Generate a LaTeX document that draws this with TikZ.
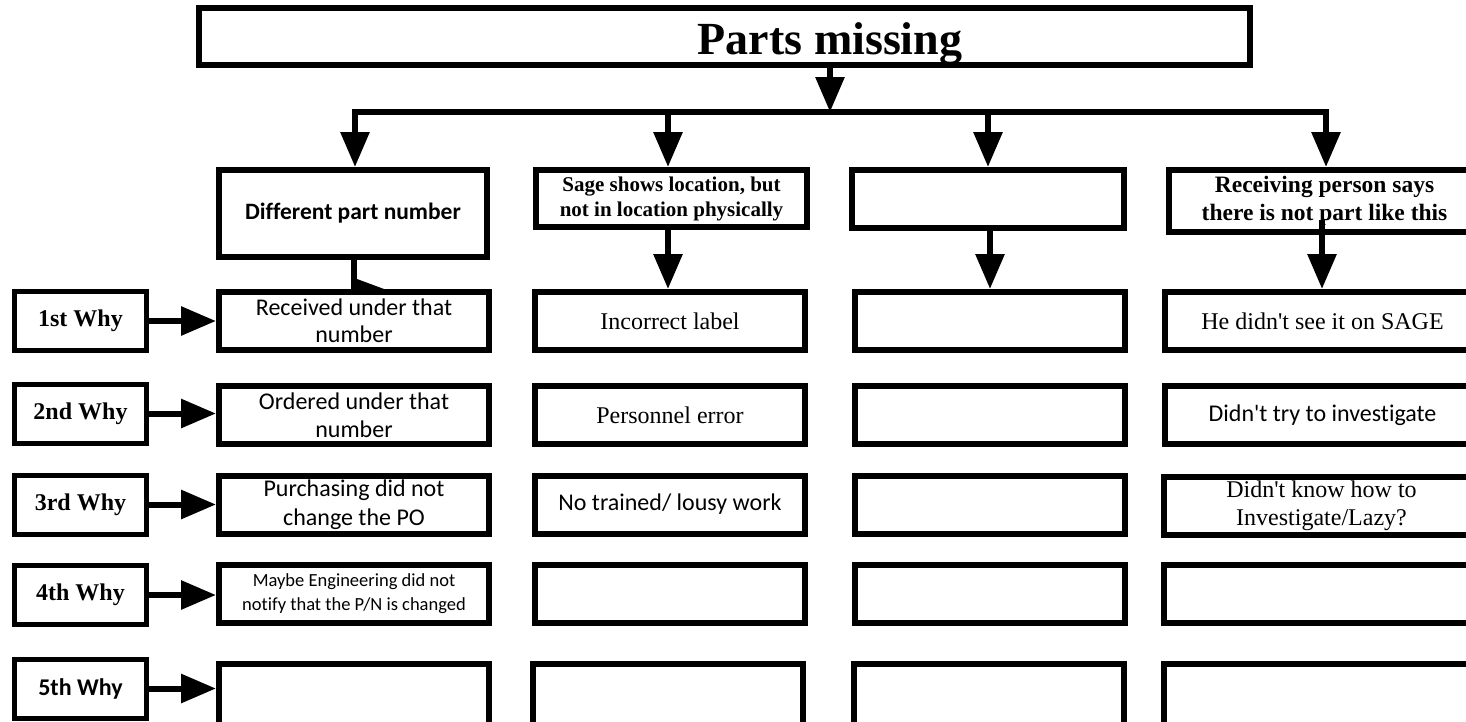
\documentclass[tikz,border=0pt]{standalone}
\usepackage{fontspec}
\setmainfont{Liberation Serif}
\newfontfamily\calibri[Ligatures=NoCommon]{Carlito}
\usetikzlibrary{arrows.meta,calc}

\tikzset{
  frame/.style={draw, rectangle, line width=6pt, inner sep=0pt, align=center},
  cell/.style={frame, minimum width=270pt, minimum height=58pt},
  lastcell/.style={frame, minimum width=270pt, minimum height=76pt},
  whybox/.style={draw, rectangle, line width=5pt, inner sep=0pt, minimum width=132pt, minimum height=59pt},
  serifreg/.style={font=\fontsize{24}{28}\selectfont},
  serifbold/.style={font=\bfseries\fontsize{24}{28}\selectfont},
  sansreg/.style={font=\calibri\fontsize{24}{27}\selectfont},
  sansbold/.style={font=\calibri\bfseries\fontsize{24}{27}\selectfont},
  arr/.style={line width=6pt, -{Triangle[width=28pt,length=35pt]}},
  bar/.style={line width=6pt}
}

\begin{document}
\begin{tikzpicture}[x=1pt, y=-1pt]
\useasboundingbox (0,0) rectangle (1466,721);
\clip (0,0) rectangle (1466,721);

% problem statement
\node[frame, minimum width=1051pt, minimum height=57pt] (title) at (724.5,36.5) {};
\node[anchor=base, inner sep=0pt, font=\bfseries\fontsize{46}{50}\selectfont] (titletext) at (830,54) {Parts missing};

% first-level causes
\node[frame, minimum width=268pt, minimum height=87pt, font=\calibri\bfseries\fontsize{23.5}{27}\selectfont] (d1) at (353,213.5) {Different part number};
\node[frame, minimum width=271pt, minimum height=57pt, font=\bfseries\fontsize{21}{25}\selectfont] (d2) at (671.5,198.5) {Sage shows location, but\\not in location physically};
\node[frame, minimum width=272pt, minimum height=58pt] (d3) at (988,199) {};
\node[frame, minimum width=311pt, minimum height=62pt, font=\bfseries\fontsize{23.5}{28}\selectfont] (d4) at (1324.5,201) {Receiving person says\\there is not part like this};

% the five whys, column 1
\node[cell, sansreg] (r11) at (354,321) {Received under that\\number};
\node[cell, font=\calibri\fontsize{24}{28}\selectfont] (r12) at (354,415) {Ordered under that\\number};
\node[cell, font=\calibri\fontsize{24}{29}\selectfont] (r13) at (354,504.5) {Purchasing did not\\change the PO};
\node[cell, font=\calibri\fontsize{18.5}{24}\selectfont] (r14) at (354,594) {Maybe Engineering did not\\notify that the P/N is changed};
\node[lastcell] (r15) at (354,702) {};

% column 2
\node[cell, serifreg] (r21) at (670,321) {Incorrect label};
\node[cell, serifreg] (r22) at (670,415) {Personnel error};
\node[cell, sansreg] (r23) at (670,504.5) {No trained/ lousy work};
\node[cell] (r24) at (670,594) {};
\node[lastcell] (r25) at (668,702) {};

% column 3
\node[cell] (r31) at (990,321) {};
\node[cell] (r32) at (990,415) {};
\node[cell] (r33) at (990,504.5) {};
\node[cell] (r34) at (990,594) {};
\node[lastcell] (r35) at (988.5,702) {};

% column 4
\node[cell, minimum width=315pt, serifreg] (r41) at (1322.5,321) {He didn\textquotesingle t see it on SAGE};
\node[cell, minimum width=315pt, sansreg] (r42) at (1322.5,415) {Didn\textquotesingle t try to investigate};
\node[cell, minimum width=315pt, serifreg] (r43) at (1321.5,506) {Didn\textquotesingle t know how to\\Investigate/Lazy?};
\node[cell, minimum width=315pt] (r44) at (1321.5,594) {};
\node[lastcell, minimum width=315pt] (r45) at (1321.5,702) {};

% row labels
\node[whybox, serifbold] (w1) at (80.5,321) {1st Why};
\node[whybox, serifbold] (w2) at (80.5,413.5) {2nd Why};
\node[whybox, serifbold] (w3) at (80.5,504.5) {3rd Why};
\node[whybox, serifbold] (w4) at (80.5,595) {4th Why};
\node[whybox, sansbold] (w5) at (80.5,688.5) {5th Why};

% distribution bar under the problem statement
\coordinate (hub) at (830,112);
\coordinate (b1) at (355,112);
\coordinate (b2) at (668,112);
\coordinate (b3) at (988,112);
\coordinate (b4) at (1326,112);
\draw[arr] (title.south -| hub) -- (hub);
\draw[bar, shorten <=-3pt, shorten >=-3pt] (b1) -- (b4);
\draw[arr, shorten <=-3pt] (b1) -- (b1 |- d1.north);
\draw[arr] (b2) -- (b2 |- d2.north);
\draw[arr] (b3) -- (b3 |- d3.north);
\draw[arr, shorten <=-3pt] (b4) -- (b4 |- d4.north);

% first-level causes into the first why
\draw[bar] ($(d1.south)+(1,0)$) -- ($(r11.north)+(0,-4)$);
\fill ($(r11.north)+(-3,-10)$) -- ($(r11.north)+(3,-10)$) -- ($(r11.north)+(30,0)$) -- ($(r11.north)+(-3,0)$) -- cycle;
\draw[arr] (b2 |- d2.south) -- (b2 |- r21.north);
\draw[arr] (r31.north |- d3.south) -- (r31.north);
\coordinate (c4) at (1322,220);
\draw[arr] (c4) -- (c4 |- r41.north);

% why labels into column 1
\draw[arr] (w1.east) -- (w1.east -| r11.west);
\draw[arr] (w2.east) -- (w2.east -| r12.west);
\draw[arr] (w3.east) -- (w3.east -| r13.west);
\draw[arr] (w4.east) -- (w4.east -| r14.west);
\draw[arr] (w5.east) -- (w5.east -| r15.west);
\end{tikzpicture}
\end{document}
